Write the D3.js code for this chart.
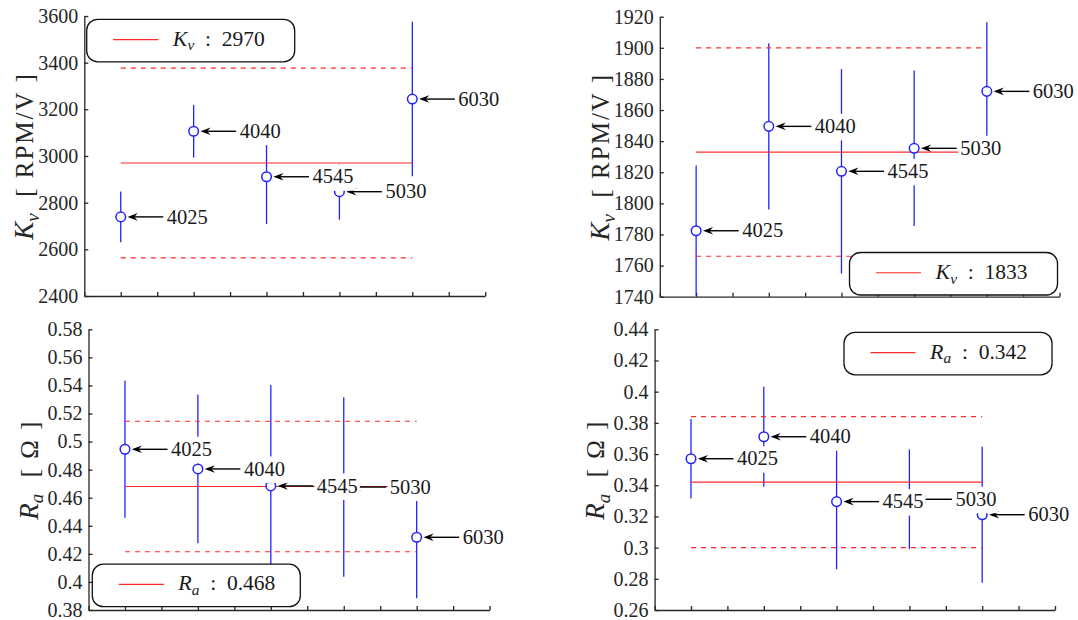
<!DOCTYPE html>
<html>
<head>
<meta charset="utf-8">
<script src="https://cdn.jsdelivr.net/npm/d3@7"></script>
<style>
  body { margin: 0; background: #fff; }
  svg text { font-family: "Liberation Serif", "Times New Roman", serif !important; white-space: pre; }
</style>
</head>
<body>
<svg id="chart" width="1078" height="620"></svg>
<script>
// motor names and their slot on the x axis
const motors = ['4025', '4040', '4545', '5030', '6030'];
const motorSlots = [1, 3, 5, 7, 9];
const slotTicks = d3.range(0, 12);

// Kv, first set
const kvA = [2739, 3106, 2911, 2847, 3244];
const kvAErr = [109, 113, 203, 120, 331];
const kvAMean = 2970;
const kvABand = 407;
const kvATicks = [2400, 2600, 2800, 3000, 3200, 3400, 3600];

// Kv, second set
const kvB = [1782.4, 1849.5, 1820.6, 1835.4, 1872];
const kvBErr = [42, 53.5, 65.7, 50, 44.4];
const kvBMean = 1833;
const kvBBand = 67;
const kvBTicks = [1740, 1760, 1780, 1800, 1820, 1840, 1860, 1880, 1900, 1920];

// Ra, first set
const raA = [0.4945, 0.4805, 0.4684, 0.4676, 0.4318];
const raAErr = [0.0488, 0.053, 0.0719, 0.0639, 0.0434];
const raAMean = 0.468;
const raABand = 0.0465;
const raATicks = [0.38, 0.4, 0.42, 0.44, 0.46, 0.48, 0.5, 0.52, 0.54, 0.56, 0.58];

// Ra, second set
const raB = [0.357, 0.3711, 0.3295, 0.331, 0.3211];
const raBErr = [0.0255, 0.032, 0.0434, 0.032, 0.0436];
const raBMean = 0.342;
const raBBand = 0.042;
const raBTicks = [0.26, 0.28, 0.3, 0.32, 0.34, 0.36, 0.38, 0.4, 0.42, 0.44];

const blue = '#2222ff';
const red = '#ff2a2a';
const axisColor = '#262626';

const panels = [
  { vals: kvA, err: kvAErr, mean: kvAMean, band: kvABand, ticks: kvATicks,
    sym: 'K', sub: 'v', unit: '[ RPM/V ]',
    frame: { left: 84.3, right: 485.2, top: 16, bottom: 296 },
    legend: { h: 'left', v: 'top', dx: 2.4, dy: 3.3 } },
  { vals: kvB, err: kvBErr, mean: kvBMean, band: kvBBand, ticks: kvBTicks,
    sym: 'K', sub: 'v', unit: '[ RPM/V ]',
    frame: { left: 659.8, right: 1059.5, top: 16.7, bottom: 296.7 },
    legend: { h: 'right', v: 'bottom', dx: 2, dy: 1.7 } },
  { vals: raA, err: raAErr, mean: raAMean, band: raABand, ticks: raATicks,
    sym: 'R', sub: 'a', unit: '[ Ω ]',
    frame: { left: 88.5, right: 489.6, top: 329.3, bottom: 610 },
    legend: { h: 'left', v: 'bottom', dx: 3.8, dy: 3.3 } },
  { vals: raB, err: raBErr, mean: raBMean, band: raBBand, ticks: raBTicks,
    sym: 'R', sub: 'a', unit: '[ Ω ]',
    frame: { left: 654.6, right: 1055, top: 329.3, bottom: 610 },
    legend: { h: 'right', v: 'top', dx: 3, dy: 3 } }
];

const svg = d3.select('#chart');

// italic symbol with subscript, then whatever follows
function mathText(sel, sym, sub, size) {
  sel.append('tspan').attr('font-style', 'italic').attr('font-size', size).text(sym);
  sel.append('tspan').attr('font-style', 'italic').attr('font-size', size * 0.7)
    .attr('dy', size * 0.22).text(sub);
}

panels.forEach(p => {
  const f = p.frame;
  const x = d3.scaleLinear().domain([0, 11]).range([f.left, f.right]);
  const y = d3.scaleLinear()
    .domain([p.ticks[0], p.ticks[p.ticks.length - 1]])
    .range([f.bottom, f.top])
    .clamp(true);

  const g = svg.append('g');

  const yAxis = g.append('g')
    .attr('transform', `translate(${f.left},0)`)
    .call(d3.axisLeft(y).tickValues(p.ticks).tickSizeInner(-4).tickSizeOuter(0)
      .tickPadding(6).tickFormat(d => String(d)));
  const xAxis = g.append('g')
    .attr('transform', `translate(0,${f.bottom})`)
    .call(d3.axisBottom(x).tickValues(slotTicks).tickSizeInner(-4).tickSizeOuter(0)
      .tickFormat(''));
  [yAxis, xAxis].forEach(a => {
    a.attr('font-family', null);
    a.selectAll('path, line').attr('stroke', axisColor).attr('stroke-width', 1.3);
    a.selectAll('text').attr('fill', axisColor).attr('font-size', 20);
  });

  // y label
  const yl = g.append('text')
    .attr('transform', `translate(${f.left - 51},${(f.top + f.bottom) / 2}) rotate(-90)`)
    .attr('text-anchor', 'middle')
    .attr('fill', axisColor);
  mathText(yl, p.sym, p.sub, 27);
  yl.append('tspan').attr('dy', -27 * 0.22).attr('font-size', 25)
    .attr('letter-spacing', 2).text('  ' + p.unit);

  const xs = [x(motorSlots[0]), x(motorSlots[motorSlots.length - 1])];

  // error bars
  g.append('g').selectAll('line')
    .data(p.vals)
    .join('line')
    .attr('x1', (d, i) => x(motorSlots[i]))
    .attr('x2', (d, i) => x(motorSlots[i]))
    .attr('y1', (d, i) => y(d - p.err[i]))
    .attr('y2', (d, i) => y(d + p.err[i]))
    .attr('stroke', blue)
    .attr('stroke-width', 1.3);

  // band and mean
  g.append('g').selectAll('line')
    .data([p.mean - p.band, p.mean + p.band])
    .join('line')
    .attr('x1', xs[0]).attr('x2', xs[1])
    .attr('y1', d => y(d)).attr('y2', d => y(d))
    .attr('stroke', red).attr('stroke-width', 1.2)
    .attr('stroke-dasharray', '5,5');
  g.append('line')
    .attr('x1', xs[0]).attr('x2', xs[1])
    .attr('y1', y(p.mean)).attr('y2', y(p.mean))
    .attr('stroke', red).attr('stroke-width', 1.2);

  // markers
  g.append('g').selectAll('circle')
    .data(p.vals)
    .join('circle')
    .attr('cx', (d, i) => x(motorSlots[i]))
    .attr('cy', d => y(d))
    .attr('r', 4.8)
    .attr('fill', '#fff')
    .attr('stroke', blue)
    .attr('stroke-width', 1.5);

  // arrows
  const arrows = g.append('g').selectAll('g')
    .data(p.vals)
    .join('g')
    .attr('transform', (d, i) => `translate(${x(motorSlots[i])},${y(d)})`);
  arrows.append('line')
    .attr('x1', 13).attr('x2', 42.5).attr('y1', 0).attr('y2', 0)
    .attr('stroke', '#000').attr('stroke-width', 1.4);
  arrows.append('path')
    .attr('d', 'M6.8,0 L17,-3.8 L13.5,0 L17,3.8 Z')
    .attr('fill', '#000');

  // labels with white background, drawn on top of the marks
  const labels = g.append('g').selectAll('g')
    .data(p.vals)
    .join('g')
    .attr('transform', (d, i) => `translate(${x(motorSlots[i]) + 46},${y(d)})`);
  labels.each(function (d, i) {
    const lg = d3.select(this);
    const bg = lg.append('rect').attr('fill', '#fff');
    const t = lg.append('text')
      .attr('y', 6.6)
      .attr('font-size', 20.5)
      .attr('fill', '#1a1a1a')
      .text(motors[i]);
    const w = t.node().getComputedTextLength();
    bg.attr('x', -2).attr('y', -12.5).attr('width', w + 4).attr('height', 26.5);
  });

  // legend
  const L = p.legend, lw = 208, lh = 42.5;
  const lx = L.h === 'left' ? f.left + L.dx : f.right - L.dx - lw;
  const ly = L.v === 'top' ? f.top + L.dy : f.bottom - L.dy - lh;
  const lg = g.append('g').attr('transform', `translate(${lx},${ly})`);
  lg.append('rect')
    .attr('width', lw).attr('height', lh).attr('rx', 11)
    .attr('fill', '#fff').attr('stroke', '#111').attr('stroke-width', 1.3);
  lg.append('line')
    .attr('x1', 26.5).attr('x2', 71.5)
    .attr('y1', lh / 2 - 1).attr('y2', lh / 2 - 1)
    .attr('stroke', red).attr('stroke-width', 1.2);
  const lt = lg.append('text')
    .attr('x', 86).attr('y', lh / 2 + 5)
    .attr('fill', '#1a1a1a');
  mathText(lt, p.sym, p.sub, 22);
  lt.append('tspan').attr('dy', -22 * 0.22).attr('font-size', 21.5)
    .text('  :  ' + String(p.mean));
});
</script>
</body>
</html>
